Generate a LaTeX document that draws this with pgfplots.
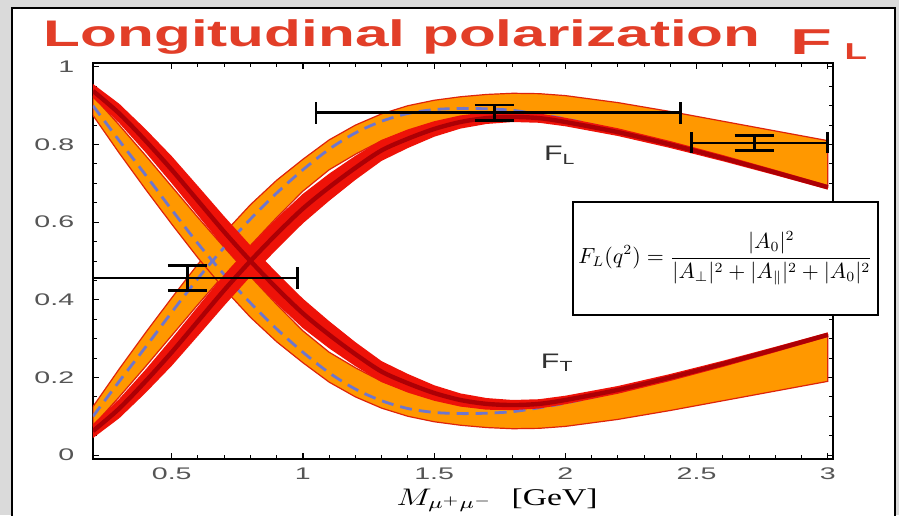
\documentclass[border=0pt]{standalone}
\usepackage{amsmath}
\usepackage{pgfplots}
\pgfplotsset{compat=1.18}
\usepackage{fontspec}
\setmainfont{Liberation Sans}
\newfontfamily\timesfont{Liberation Serif}

\definecolor{bgframe}{RGB}{218,218,218}
\definecolor{titlered}{RGB}{226,62,40}
\definecolor{bandorange}{RGB}{255,152,0}
\definecolor{bandedge}{RGB}{222,35,10}
\definecolor{bandred}{RGB}{238,18,8}
\definecolor{coredark}{RGB}{172,0,5}
\definecolor{dashblue}{RGB}{110,118,205}
\definecolor{ticktext}{RGB}{85,85,85}
\definecolor{labeltext}{RGB}{50,50,50}

\pgfplotsset{errbar/.style={black, line width=1.4pt, forget plot}}

\begin{document}
\begin{tikzpicture}[x=1pt,y=1pt]
% slide background and white panel
\fill[bgframe] (0,0) rectangle (449.5,257.5);
\fill[white] (6,-5) rectangle (447.5,253.5);
\draw[black, line width=1pt] (6,-5) -- (6,253.5) -- (447.5,253.5) -- (447.5,-5);

\begin{axis}[
  at={(46.5pt,28pt)}, anchor=south west,
  scale only axis, width=370pt, height=198pt,
  xmin=0.2, xmax=3.02, ymin=-0.01, ymax=1.01,
  xtick={0.5,1,1.5,2,2.5,3},
  ytick={0,0.2,0.4,0.6,0.8,1},
  minor x tick num=4, minor y tick num=3,
  tick align=inside, tick pos=both,
  major tick length=3pt, minor tick length=1.8pt,
  every tick/.style={black, line width=0.6pt},
  every minor tick/.style={black, line width=0.5pt},
  axis line style={black, line width=0.9pt},
  /pgf/number format/assume math mode=true,
  ticklabel style={font=\fontsize{8.4}{10}\selectfont, text=ticktext, xscale=1.7},
  yticklabel style={xshift=-2pt},
  xticklabel style={yshift=-1pt},
]

% ---- F_L : wide (orange) band, upper edge then lower edge ----
\addplot[fill=bandorange, draw=bandedge, line width=0.6pt] coordinates {
 (0.2,0.125)(0.3,0.222)(0.4,0.315)(0.5,0.405)(0.6,0.492)(0.7,0.572)(0.8,0.645)(0.9,0.708)
 (1.0,0.762)(1.1,0.812)(1.2,0.850)(1.3,0.879)(1.4,0.900)(1.5,0.914)(1.6,0.923)(1.7,0.929)
 (1.8,0.932)(1.9,0.931)(2.0,0.926)(2.2,0.908)(2.4,0.885)(2.6,0.860)(2.8,0.835)(3.0,0.810)
 (3.0,0.690)(2.8,0.728)(2.6,0.765)(2.4,0.800)(2.2,0.832)(2.0,0.858)(1.9,0.864)(1.8,0.865)
 (1.7,0.863)(1.6,0.858)(1.5,0.850)(1.4,0.835)(1.3,0.810)(1.2,0.775)(1.1,0.735)(1.0,0.680)
 (0.9,0.612)(0.8,0.540)(0.7,0.465)(0.6,0.388)(0.5,0.308)(0.4,0.228)(0.3,0.150)(0.2,0.075)} -- cycle;

% ---- F_T : wide (orange) band ----
\addplot[fill=bandorange, draw=bandedge, line width=0.6pt] coordinates {
 (0.2,0.925)(0.3,0.850)(0.4,0.772)(0.5,0.692)(0.6,0.612)(0.7,0.535)(0.8,0.460)(0.9,0.388)
 (1.0,0.320)(1.1,0.265)(1.2,0.225)(1.3,0.190)(1.4,0.165)(1.5,0.150)(1.6,0.142)(1.7,0.137)
 (1.8,0.135)(1.9,0.136)(2.0,0.142)(2.2,0.168)(2.4,0.200)(2.6,0.235)(2.8,0.272)(3.0,0.310)
 (3.0,0.190)(2.8,0.165)(2.6,0.140)(2.4,0.115)(2.2,0.092)(2.0,0.074)(1.9,0.069)(1.8,0.068)
 (1.7,0.071)(1.6,0.077)(1.5,0.086)(1.4,0.100)(1.3,0.121)(1.2,0.150)(1.1,0.188)(1.0,0.238)
 (0.9,0.292)(0.8,0.355)(0.7,0.428)(0.6,0.508)(0.5,0.595)(0.4,0.685)(0.3,0.778)(0.2,0.875)} -- cycle;

% ---- dashed central curves of the wide bands ----
\addplot[dashblue, line width=1.4pt, dash pattern=on 6pt off 3.5pt, smooth] coordinates {
 (0.2,0.100)(0.3,0.190)(0.4,0.278)(0.5,0.368)(0.6,0.455)(0.7,0.535)(0.8,0.608)(0.9,0.675)
 (1.0,0.735)(1.1,0.788)(1.2,0.830)(1.3,0.860)(1.4,0.880)(1.5,0.890)(1.6,0.893)(1.7,0.892)
 (1.8,0.888)(1.9,0.878)(2.0,0.866)(2.2,0.836)(2.4,0.800)(2.6,0.765)(2.8,0.728)(3.0,0.690)};
\addplot[dashblue, line width=1.4pt, dash pattern=on 6pt off 3.5pt, smooth] coordinates {
 (0.2,0.900)(0.3,0.810)(0.4,0.722)(0.5,0.632)(0.6,0.545)(0.7,0.465)(0.8,0.392)(0.9,0.325)
 (1.0,0.265)(1.1,0.212)(1.2,0.170)(1.3,0.140)(1.4,0.120)(1.5,0.110)(1.6,0.107)(1.7,0.108)
 (1.8,0.112)(1.9,0.122)(2.0,0.134)(2.2,0.164)(2.4,0.200)(2.6,0.235)(2.8,0.272)(3.0,0.310)};

% ---- F_L : narrow (red) band ----
\addplot[fill=bandred, draw=none] coordinates {
 (0.2,0.080)(0.3,0.145)(0.4,0.220)(0.5,0.300)(0.6,0.383)(0.7,0.465)(0.8,0.540)(0.9,0.610)
 (1.0,0.673)(1.1,0.725)(1.2,0.771)(1.3,0.812)(1.4,0.839)(1.5,0.860)(1.6,0.875)(1.7,0.883)
 (1.8,0.884)(1.9,0.880)(2.0,0.869)(2.2,0.842)(2.4,0.809)(2.6,0.773)(2.8,0.735)(3.0,0.696)
 (3.0,0.684)(2.8,0.721)(2.6,0.757)(2.4,0.791)(2.2,0.822)(2.0,0.847)(1.9,0.856)(1.8,0.858)
 (1.7,0.853)(1.6,0.841)(1.5,0.820)(1.4,0.791)(1.3,0.758)(1.2,0.709)(1.1,0.655)(1.0,0.597)
 (0.9,0.530)(0.8,0.460)(0.7,0.385)(0.6,0.307)(0.5,0.230)(0.4,0.160)(0.3,0.095)(0.2,0.044)} -- cycle;

% ---- F_T : narrow (red) band ----
\addplot[fill=bandred, draw=none] coordinates {
 (0.2,0.956)(0.3,0.905)(0.4,0.840)(0.5,0.770)(0.6,0.693)(0.7,0.615)(0.8,0.540)(0.9,0.470)
 (1.0,0.403)(1.1,0.345)(1.2,0.291)(1.3,0.242)(1.4,0.209)(1.5,0.180)(1.6,0.159)(1.7,0.147)
 (1.8,0.142)(1.9,0.144)(2.0,0.153)(2.2,0.178)(2.4,0.209)(2.6,0.243)(2.8,0.279)(3.0,0.316)
 (3.0,0.304)(2.8,0.265)(2.6,0.227)(2.4,0.191)(2.2,0.158)(2.0,0.131)(1.9,0.120)(1.8,0.116)
 (1.7,0.117)(1.6,0.125)(1.5,0.140)(1.4,0.161)(1.3,0.188)(1.2,0.229)(1.1,0.275)(1.0,0.327)
 (0.9,0.390)(0.8,0.460)(0.7,0.535)(0.6,0.617)(0.5,0.700)(0.4,0.780)(0.3,0.855)(0.2,0.920)} -- cycle;

% ---- central curves of the narrow bands ----
\addplot[coredark, line width=2.2pt, smooth] coordinates {
 (0.2,0.062)(0.3,0.120)(0.4,0.190)(0.5,0.265)(0.6,0.345)(0.7,0.425)(0.8,0.500)(0.9,0.570)
 (1.0,0.635)(1.1,0.690)(1.2,0.740)(1.3,0.785)(1.4,0.815)(1.5,0.840)(1.6,0.858)(1.7,0.868)
 (1.8,0.871)(1.9,0.868)(2.0,0.858)(2.2,0.832)(2.4,0.800)(2.6,0.765)(2.8,0.728)(3.0,0.690)};
\addplot[coredark, line width=2.2pt, smooth] coordinates {
 (0.2,0.938)(0.3,0.880)(0.4,0.810)(0.5,0.735)(0.6,0.655)(0.7,0.575)(0.8,0.500)(0.9,0.430)
 (1.0,0.365)(1.1,0.310)(1.2,0.260)(1.3,0.215)(1.4,0.185)(1.5,0.160)(1.6,0.142)(1.7,0.132)
 (1.8,0.129)(1.9,0.132)(2.0,0.142)(2.2,0.168)(2.4,0.200)(2.6,0.235)(2.8,0.272)(3.0,0.310)};

% ---- measured F_L in three bins: bin width and uncertainty ----
% bin 0.2--0.98, F_L = 0.456 +- 0.033
\addplot[errbar] coordinates {(0.20,0.456)(0.98,0.456)};
\addplot[errbar] coordinates {(0.20,0.428)(0.20,0.484)};
\addplot[errbar] coordinates {(0.98,0.428)(0.98,0.484)};
\addplot[errbar] coordinates {(0.56,0.423)(0.56,0.489)};
\addplot[errbar] coordinates {(0.485,0.489)(0.635,0.489)};
\addplot[errbar] coordinates {(0.485,0.423)(0.635,0.423)};
% bin 1.05--2.44, F_L = 0.882 +- 0.020
\addplot[errbar] coordinates {(1.05,0.882)(2.44,0.882)};
\addplot[errbar] coordinates {(1.05,0.854)(1.05,0.910)};
\addplot[errbar] coordinates {(2.44,0.854)(2.44,0.910)};
\addplot[errbar] coordinates {(1.73,0.862)(1.73,0.902)};
\addplot[errbar] coordinates {(1.655,0.902)(1.805,0.902)};
\addplot[errbar] coordinates {(1.655,0.862)(1.805,0.862)};
% bin 2.48--3.0, F_L = 0.804 +- 0.020
\addplot[errbar] coordinates {(2.48,0.804)(3.00,0.804)};
\addplot[errbar] coordinates {(2.48,0.777)(2.48,0.831)};
\addplot[errbar] coordinates {(3.00,0.777)(3.00,0.831)};
\addplot[errbar] coordinates {(2.72,0.784)(2.72,0.824)};
\addplot[errbar] coordinates {(2.645,0.824)(2.795,0.824)};
\addplot[errbar] coordinates {(2.645,0.784)(2.795,0.784)};

\node[font=\fontsize{10.5}{12}\selectfont, text=labeltext, xscale=1.45] at (axis cs:1.98,0.772) {F\textsubscript{L}};
\node[font=\fontsize{10.5}{12}\selectfont, text=labeltext, xscale=1.45] at (axis cs:1.97,0.238) {F\textsubscript{T}};
\end{axis}

% title
\node[anchor=base west, inner sep=0, font=\fontsize{18.5}{21}\selectfont\bfseries, text=titlered, xscale=1.63] at (21.5,234) {Longitudinal polarization};
\node[anchor=base west, inner sep=0, font=\fontsize{18}{20}\selectfont\bfseries, text=titlered, xscale=1.9] at (395,230) {F};
\node[anchor=base west, inner sep=0, font=\fontsize{11.5}{13}\selectfont\bfseries, text=titlered, xscale=1.6] at (422,227.5) {L};

% horizontal axis title
\node[anchor=base, inner sep=0, font=\fontsize{12}{14}\selectfont, xscale=1.4] at (248.5,5) {$M_{\mu^+\mu^-}$\ \ {\timesfont [GeV]}};

% formula box
\node[draw=black, line width=1pt, fill=white, minimum width=152.5pt, minimum height=56.5pt, inner sep=0, font=\fontsize{10.7}{12.5}\selectfont] at (362.75,128.25)
  {$\displaystyle F_L(q^2)=\frac{\lvert A_0\rvert^2}{\lvert A_\perp\rvert^2+\lvert A_\parallel\rvert^2+\lvert A_0\rvert^2}$};

\pgfresetboundingbox
\useasboundingbox (0,0) rectangle (449.5,257.5);
\end{tikzpicture}
\end{document}
